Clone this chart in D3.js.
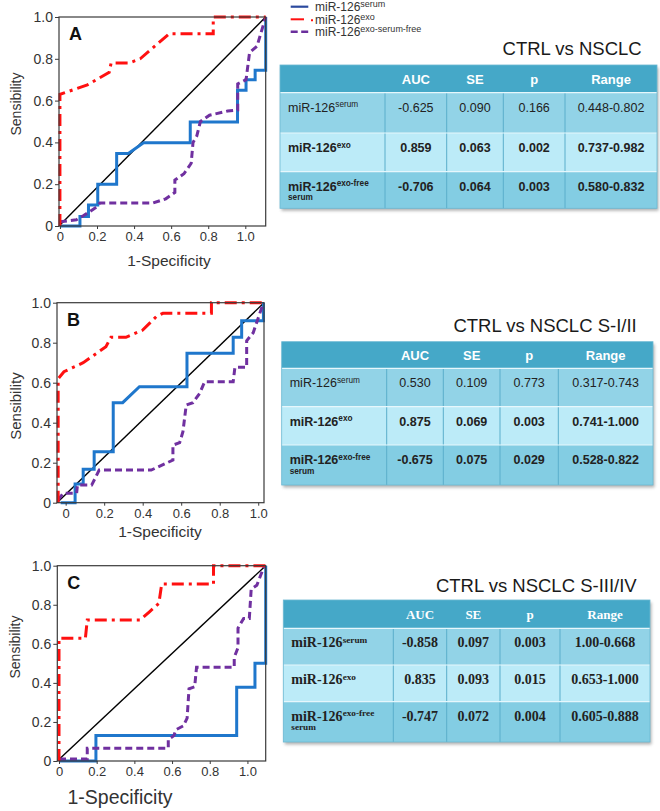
<!DOCTYPE html>
<html><head><meta charset="utf-8">
<script src="https://cdn.jsdelivr.net/npm/d3@7"></script>
<style>body{margin:0;background:#fff}svg{display:block}</style>
</head><body>
<svg id="c" width="660" height="811"></svg>
<script>
// ---------- DATA ----------
const yTickVals = [0, 0.2, 0.4, 0.6, 0.8, 1.0];
const xTickVals = [0, 0.2, 0.4, 0.6, 0.8, 1.0];
const tickLabel = d => d === 0 ? "0" : d.toFixed(1);
const seriesNames = ["serum", "exo", "exo-serum-free"];

// Panel A  (CTRL vs NSCLC)
const serumA = [[0,0],[0.108,0],[0.108,0.045],[0.154,0.045],[0.154,0.10],[0.204,0.10],[0.204,0.20],[0.306,0.20],[0.306,0.347],[0.369,0.347],[0.451,0.398],[0.703,0.398],[0.703,0.498],[0.958,0.498],[0.958,0.65],[1.004,0.65],[1.004,0.70],[1.053,0.70],[1.053,0.745],[1.11,0.745],[1.11,1.0]];
const exoA = [[0,0],[0,0.63],[0.148,0.675],[0.266,0.735],[0.276,0.78],[0.374,0.78],[0.433,0.80],[0.59,0.92],[0.827,0.92],[0.827,1.0],[1.11,1.0]];
const freeA = [[0,0.02],[0.089,0.03],[0.128,0.05],[0.197,0.09],[0.216,0.11],[0.502,0.11],[0.571,0.13],[0.62,0.16],[0.62,0.22],[0.669,0.25],[0.708,0.30],[0.718,0.40],[0.738,0.43],[0.758,0.50],[0.807,0.53],[0.905,0.55],[0.959,0.555],[0.959,0.68],[1.004,0.70],[1.023,0.83],[1.063,0.86],[1.11,1.0]];

// Panel B  (CTRL vs NSCLC S-I/II)
const serumB = [[-0.026,0],[0.049,0],[0.049,0.093],[0.091,0.093],[0.091,0.167],[0.148,0.167],[0.148,0.255],[0.247,0.255],[0.247,0.50],[0.296,0.50],[0.383,0.58],[0.63,0.58],[0.63,0.747],[0.87,0.747],[0.87,0.827],[0.914,0.827],[0.914,0.91],[1.027,0.91],[1.027,1.0]];
const exoB = [[-0.039,0],[-0.039,0.62],[-0.009,0.655],[0.091,0.70],[0.209,0.78],[0.235,0.827],[0.313,0.827],[0.40,0.863],[0.47,0.93],[0.505,0.947],[0.757,0.947],[0.757,1.0],[1.03,1.0]];
const freeB = [[-0.039,0.013],[-0.013,0.047],[0.057,0.047],[0.061,0.088],[0.135,0.088],[0.174,0.163],[0.444,0.163],[0.557,0.213],[0.557,0.288],[0.592,0.30],[0.609,0.355],[0.626,0.488],[0.661,0.50],[0.696,0.547],[0.722,0.605],[0.87,0.605],[0.879,0.677],[0.94,0.677],[0.94,0.81],[0.974,0.85],[1.027,1.0]];

// Panel C  (CTRL vs NSCLC S-III/IV)
const serumC = [[0,0],[0.196,0],[0.196,0.13],[0.943,0.13],[0.943,0.377],[1.04,0.377],[1.04,0.50],[1.097,0.50],[1.097,1.0]];
const exoC = [[0,0],[0,0.628],[0.14,0.628],[0.15,0.722],[0.43,0.722],[0.48,0.764],[0.53,0.807],[0.545,0.906],[0.82,0.906],[0.82,1.0],[1.097,1.0]];
const freeC = [[0,0.01],[0.15,0.01],[0.15,0.065],[0.58,0.065],[0.58,0.11],[0.61,0.13],[0.62,0.16],[0.66,0.18],[0.68,0.22],[0.69,0.37],[0.72,0.38],[0.73,0.48],[0.93,0.48],[0.93,0.53],[0.95,0.58],[0.95,0.68],[0.98,0.73],[1.01,0.73],[1.02,0.88],[1.05,0.90],[1.09,1.0]];

// Tables
const tableHeader = ["", "AUC", "SE", "p", "Range"];
const rowSup = ["serum", "exo", "exo-free"];
const rowSub = ["", "", "serum"];
const titleA = "CTRL vs NSCLC";
const titleB = "CTRL vs NSCLC S-I/II";
const titleC = "CTRL vs NSCLC S-III/IV";
const valuesA = [["-0.625","0.090","0.166","0.448-0.802"],["0.859","0.063","0.002","0.737-0.982"],["-0.706","0.064","0.003","0.580-0.832"]];
const valuesB = [["0.530","0.109","0.773","0.317-0.743"],["0.875","0.069","0.003","0.741-1.000"],["-0.675","0.075","0.029","0.528-0.822"]];
const valuesC = [["-0.858","0.097","0.003","1.00-0.668"],["0.835","0.093","0.015","0.653-1.000"],["-0.747","0.072","0.004","0.605-0.888"]];

// ---------- DRAW ----------
const svg = d3.select("#c");
const SANS = "'Liberation Sans', Arial, sans-serif";
const SERIF = "'Liberation Serif', 'Times New Roman', serif";
const colors = {serum: "#1f77cc", exo: "#ff1010", free: "#7030a0"};

const defs = svg.append("defs");
defs.append("filter").attr("id", "sh").attr("x", "-5%").attr("y", "-5%").attr("width", "115%").attr("height", "125%")
  .append("feGaussianBlur").attr("stdDeviation", 1.6);

function drawPanel(cfg) {
  const x = d3.scaleLinear().domain(cfg.xDom).range([cfg.x0, cfg.x1]);
  const y = d3.scaleLinear().domain([0, 1]).range([cfg.y1, cfg.y0]);
  const g = svg.append("g");
  const line = d3.line().x(d => x(d[0])).y(d => y(d[1]));

  g.append("path").datum([[cfg.xDom[0], 0], [cfg.xDom[1], 1]]).attr("d", line)
    .attr("stroke", "#000").attr("stroke-width", 1.4).attr("fill", "none");

  g.append("path").datum(cfg.serum).attr("d", line).attr("fill", "none")
    .attr("stroke", colors.serum).attr("stroke-width", 3);
  g.append("path").datum(cfg.free).attr("d", line).attr("fill", "none")
    .attr("stroke", colors.free).attr("stroke-width", 3).attr("stroke-dasharray", "7,4");
  g.append("path").datum(cfg.exo).attr("d", line).attr("fill", "none")
    .attr("stroke", colors.exo).attr("stroke-width", 3).attr("stroke-dasharray", "12,5,3,5");

  g.append("rect").attr("x", cfg.x0).attr("y", cfg.y0).attr("width", cfg.x1 - cfg.x0).attr("height", cfg.y1 - cfg.y0)
    .attr("fill", "none").attr("stroke", "#3a3a3a").attr("stroke-width", 1.2);

  const ya = g.append("g").attr("transform", `translate(${cfg.x0},0)`)
    .call(d3.axisLeft(y).tickValues(yTickVals).tickFormat(tickLabel).tickSize(4).tickSizeOuter(0).tickPadding(2));
  ya.select(".domain").remove();
  ya.selectAll("text").attr("font-family", SANS).attr("font-size", 14).attr("fill", "#333");
  ya.selectAll("line").attr("stroke", "#3a3a3a");
  const xa = g.append("g").attr("transform", `translate(0,${cfg.y1})`)
    .call(d3.axisBottom(x).tickValues(xTickVals).tickFormat(tickLabel).tickSize(3).tickSizeOuter(0).tickPadding(3));
  xa.select(".domain").remove();
  xa.selectAll("text").attr("font-family", SANS).attr("font-size", 13).attr("fill", "#333");
  xa.selectAll("line").attr("stroke", "#3a3a3a");

  g.append("text").attr("x", cfg.x0 + 10).attr("y", cfg.y0 + 23).text(cfg.letter)
    .attr("font-family", SANS).attr("font-weight", "bold").attr("font-size", 18).attr("fill", "#111");

  g.append("text").attr("transform", `translate(${cfg.ylx},${cfg.yly}) rotate(-90)`).attr("text-anchor", "middle")
    .attr("dy", "0.35em").text("Sensibility").attr("font-family", SANS).attr("font-size", cfg.ylfs).attr("fill", "#333");
  g.append("text").attr("x", cfg.xlx).attr("y", cfg.xly).attr("text-anchor", "middle").text("1-Specificity")
    .attr("font-family", SANS).attr("font-size", cfg.xlfs).attr("fill", "#333");
}

drawPanel({letter: "A", x0: 59, x1: 265.7, y0: 17, y1: 226, xDom: [-0.005, 1.11], serum: serumA, exo: exoA, free: freeA,
  ylx: 16, yly: 104, ylfs: 14, xlx: 169, xly: 266, xlfs: 15.5});
drawPanel({letter: "B", x0: 57, x1: 264, y0: 302.7, y1: 502.7, xDom: [-0.045, 1.03], serum: serumB, exo: exoB, free: freeB,
  ylx: 16, yly: 406, ylfs: 15, xlx: 160, xly: 537, xlfs: 15.5});
drawPanel({letter: "C", x0: 57.3, x1: 265.7, y0: 565.7, y1: 761, xDom: [-0.009, 1.097], serum: serumC, exo: exoC, free: freeC,
  ylx: 15, yly: 647, ylfs: 14, xlx: 120, xly: 804, xlfs: 19.5});

// legend
const leg = svg.append("g");
const legY = [6.7, 19.3, 31.7];
const legKeys = ["serum", "exo", "free"];
legKeys.forEach((k, i) => {
  const yy = legY[i];
  if (k === "serum") {
    leg.append("line").attr("x1", 290.7).attr("x2", 308.3).attr("y1", yy).attr("y2", yy).attr("stroke", "#2b4a9e").attr("stroke-width", 2.2);
  } else if (k === "exo") {
    leg.append("line").attr("x1", 290.7).attr("x2", 304).attr("y1", yy).attr("y2", yy).attr("stroke", "#ff1010").attr("stroke-width", 2);
    leg.append("line").attr("x1", 311).attr("x2", 313).attr("y1", yy + 1).attr("y2", yy + 1).attr("stroke", "#ff1010").attr("stroke-width", 2);
  } else {
    leg.append("line").attr("x1", 290.7).attr("x2", 309).attr("y1", yy).attr("y2", yy).attr("stroke", "#6a2f9c").attr("stroke-width", 2.4).attr("stroke-dasharray", "7,3.5");
  }
  const t = leg.append("text").attr("x", 315).attr("y", yy + 4.3).attr("font-family", SANS).attr("font-size", 12).attr("fill", "#333");
  t.append("tspan").text("miR-126");
  t.append("tspan").attr("dy", -4).attr("font-size", 9).text(seriesNames[i]);
});

// tables
function drawTable(cfg) {
  const g = svg.append("g");
  const font = cfg.serif ? SERIF : SANS;
  const L = cfg.cols[0], R = cfg.cols[cfg.cols.length - 1], T = cfg.rows[0], B = cfg.rows[cfg.rows.length - 1];
  g.append("rect").attr("x", L + 1.5).attr("y", T + 2.5).attr("width", R - L).attr("height", B - T)
    .attr("fill", "#8a8a8a").attr("opacity", 0.65).attr("filter", "url(#sh)");
  const fills = ["#45a8c8", "#92d3e7", "#bcebf8", "#83cde3"];
  for (let r = 0; r < 4; r++) {
    g.append("rect").attr("x", L).attr("y", cfg.rows[r]).attr("width", R - L).attr("height", cfg.rows[r + 1] - cfg.rows[r]).attr("fill", fills[r]);
  }
  cfg.cols.slice(1, -1).forEach(cx => {
    g.append("line").attr("x1", cx).attr("x2", cx).attr("y1", cfg.rows[1]).attr("y2", B).attr("stroke", "#5aaecb").attr("stroke-width", 1);
  });
  cfg.rows.slice(1, -1).forEach(ry => {
    g.append("line").attr("x1", L).attr("x2", R).attr("y1", ry).attr("y2", ry).attr("stroke", "#e6f7fc").attr("stroke-width", 1.2);
  });
  g.append("rect").attr("x", L).attr("y", T).attr("width", R - L).attr("height", B - T).attr("fill", "none").attr("stroke", "#6bb8d3").attr("stroke-width", 0.8);

  tableHeader.forEach((h, c) => {
    if (!h) return;
    g.append("text").attr("x", (cfg.cols[c] + cfg.cols[c + 1]) / 2).attr("y", (cfg.rows[0] + cfg.rows[1]) / 2 + 5)
      .attr("text-anchor", "middle").attr("font-family", font).attr("font-weight", "bold").attr("font-size", 13)
      .attr("fill", "#fff").text(h);
  });
  cfg.values.forEach((row, r) => {
    const bold = cfg.serif || r > 0;
    const by = cfg.rows[r + 1] + 19;
    const fs = cfg.serif ? 14 : 12.5;
    const t = g.append("text").attr("x", L + 8).attr("y", by).attr("font-family", font)
      .attr("font-weight", bold ? "bold" : "normal").attr("font-size", fs).attr("fill", "#222");
    t.append("tspan").text("miR-126");
    t.append("tspan").attr("dy", -4.5).attr("font-size", fs * 0.66).text(rowSup[r]);
    if (rowSub[r]) {
      g.append("text").attr("x", L + 8).attr("y", by + 9.5).attr("font-family", font).attr("font-weight", "bold")
        .attr("font-size", fs * 0.66).attr("fill", "#222").text(rowSub[r]);
    }
    row.forEach((v, c) => {
      g.append("text").attr("x", (cfg.cols[c + 1] + cfg.cols[c + 2]) / 2).attr("y", by).attr("text-anchor", "middle")
        .attr("font-family", font).attr("font-weight", bold ? "bold" : "normal").attr("font-size", fs)
        .attr("fill", "#222").text(v);
    });
  });
  g.append("text").attr("x", cfg.titleX).attr("y", cfg.titleY).attr("text-anchor", "end")
    .attr("font-family", SANS).attr("font-size", 18.5).attr("fill", "#1a1a1a").text(cfg.title);
}

drawTable({title: titleA, titleX: 641.7, titleY: 55, values: valuesA, serif: false,
  cols: [280, 385, 446.7, 503.3, 565, 657], rows: [65, 92.7, 133, 171.7, 208.3]});
drawTable({title: titleB, titleX: 636.7, titleY: 331.7, values: valuesB, serif: false,
  cols: [281.7, 386.7, 443.3, 500, 558.3, 653], rows: [341.7, 368.3, 406.7, 445, 485]});
drawTable({title: titleC, titleX: 636.7, titleY: 591.7, values: valuesC, serif: true,
  cols: [283.3, 393.3, 446.7, 500, 560, 650], rows: [600, 628.3, 665, 701.7, 742]});
</script>
</body></html>
